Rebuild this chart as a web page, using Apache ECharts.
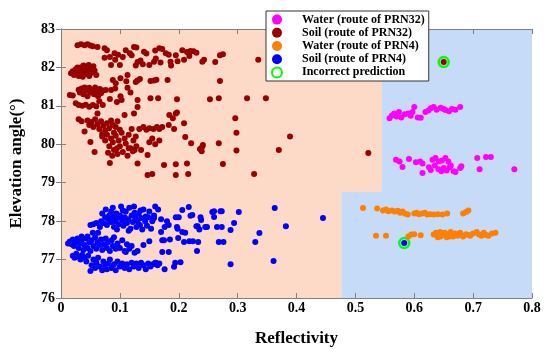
<!DOCTYPE html>
<html><head><meta charset="utf-8">
<script src="https://cdn.jsdelivr.net/npm/echarts@6/dist/echarts.min.js"></script>
<style>html,body{margin:0;padding:0;background:#fff}#c{width:550px;height:353px}</style>
</head><body><div id="c"></div>
<script>
const xTicks = [0, 0.1, 0.2, 0.3, 0.4, 0.5, 0.6, 0.7, 0.8];
const yTicks = [76, 77, 78, 79, 80, 81, 82, 83];
const seriesNames = ['Water (route of PRN32)', 'Soil (route of PRN32)', 'Water (route of PRN4)', 'Soil (route of PRN4)', 'Incorrect prediction'];
// decision regions [x0, y0, x1, y1]
const waterRegions = [[0.476, 76, 0.8, 83]];
const soilRegions = [[0, 76, 0.476, 83], [0.47, 78.76, 0.545, 83]];

const waterPRN32 = [[0.558,80.68],[0.562,80.75],[0.566,80.8],[0.57,80.72],[0.574,80.84],[0.578,80.7],[0.584,80.78],[0.59,80.8],[0.594,80.74],[0.597,80.84],[0.6,80.97],[0.606,80.7],[0.611,80.69],[0.619,80.84],[0.624,80.88],[0.628,80.94],[0.633,80.97],[0.638,80.9],[0.645,80.95],[0.65,80.92],[0.653,80.89],[0.659,80.86],[0.664,80.92],[0.67,80.9],[0.678,80.97],
[0.569,79.6],[0.575,79.55],[0.58,79.41],[0.591,79.62],[0.603,79.53],[0.61,79.55],[0.614,79.5],[0.614,79.25],[0.625,79.4],[0.628,79.33],[0.631,79.6],[0.636,79.64],[0.642,79.55],[0.647,79.58],[0.653,79.64],[0.641,79.35],[0.646,79.3],[0.65,79.38],[0.655,79.32],[0.66,79.4],[0.662,79.45],[0.667,79.3],[0.67,79.28],[0.678,79.38],[0.68,79.43],[0.707,79.64],[0.711,79.35],[0.722,79.67],[0.73,79.67],[0.77,79.35],[0.635,79.45],[0.658,79.55]];

const soilPRN32 = [[0.028,82.58],[0.034,82.6],[0.04,82.58],[0.045,82.6],[0.05,82.57],[0.054,82.55],[0.062,82.53],[0.074,82.5],[0.078,82.45],
[0.074,82.25],[0.083,82.27],[0.085,82.06],[0.091,82.37],[0.097,82.33],[0.1,82.06],[0.105,82.27],[0.11,82.45],[0.117,82.37],[0.12,82.32],[0.124,82.53],[0.128,82.52],[0.13,82.14],[0.135,82.18],[0.127,82.05],[0.141,82.41],[0.145,82.36],[0.15,82.06],[0.158,82.15],[0.161,82.23],[0.167,82.5],[0.172,82.48],[0.169,82.13],[0.178,82.37],[0.183,82.33],[0.186,82.15],[0.195,82.32],[0.198,82.16],[0.206,82.45],[0.209,82.2],[0.214,82.4],[0.22,82.43],[0.225,82.42],[0.23,82.38],[0.218,82.3],[0.24,82.15],[0.243,82.2],[0.262,82.14],[0.27,82.32],[0.275,82.34],[0.335,82.2],[0.139,82.08],[0.16,82.44],[0.187,82.05],[0.092,82.2],
[0.017,81.85],[0.02,81.9],[0.022,81.8],[0.025,81.95],[0.027,81.85],[0.03,81.78],[0.03,81.92],[0.033,82.0],[0.035,81.86],[0.037,81.76],[0.04,81.95],[0.042,81.83],[0.044,82.02],[0.046,81.9],[0.048,81.78],[0.05,81.97],[0.052,81.86],[0.055,82.03],[0.057,81.92],[0.06,81.8],[0.038,82.05],[0.028,82.0],[0.047,82.06],
[0.015,81.28],[0.02,81.27],
[0.032,81.35],[0.035,81.45],[0.038,81.3],[0.042,81.4],[0.045,81.25],[0.048,81.47],[0.05,81.35],[0.053,81.42],[0.056,81.3],[0.058,81.48],[0.06,81.38],[0.063,81.25],[0.066,81.44],[0.068,81.33],[0.071,81.4],[0.04,81.48],[0.03,81.42],
[0.025,81.07],[0.03,81.02],[0.036,81.0],[0.042,81.03],[0.048,80.98],[0.054,81.02],[0.06,80.99],[0.071,81.02],[0.083,81.18],[0.065,81.12],
[0.076,81.41],[0.085,81.41],[0.092,81.45],[0.088,81.67],[0.093,81.59],[0.101,81.72],[0.101,81.25],[0.103,81.15],[0.113,81.8],[0.111,81.64],[0.113,81.47],[0.127,81.62],[0.13,81.66],[0.134,81.7],[0.13,81.15],[0.13,80.97],[0.152,81.65],[0.158,81.66],[0.162,81.68],[0.152,81.2],[0.165,81.2],[0.181,81.67],[0.197,81.17],[0.253,81.17],[0.268,81.2],[0.316,81.2],[0.348,81.2],[0.27,81.65],[0.118,81.35],[0.095,81.1],
[0.184,80.76],[0.195,80.8],[0.19,80.68],[0.124,80.8],[0.108,80.76],[0.062,80.8],[0.197,80.83],
[0.03,80.65],[0.035,80.6],[0.04,80.33],[0.045,80.62],[0.048,80.5],[0.052,80.58],[0.055,80.45],[0.058,80.65],[0.062,80.52],[0.065,80.4],[0.068,80.6],[0.072,80.48],[0.075,80.35],[0.078,80.55],[0.082,80.42],[0.085,80.62],[0.088,80.5],[0.09,80.3],[0.093,80.45],[0.096,80.6],[0.1,80.38],[0.07,80.27],
[0.07,80.2],[0.075,80.1],[0.078,80.25],[0.082,79.95],[0.085,80.15],[0.088,80.05],[0.09,79.85],[0.093,80.22],[0.096,79.75],[0.098,80.1],[0.1,79.95],[0.103,80.3],[0.105,79.8],[0.108,80.15],[0.11,80.02],[0.113,79.7],[0.115,80.25],[0.118,79.9],[0.12,80.4],[0.123,80.1],[0.125,79.85],[0.127,80.2],[0.08,79.78],[0.087,79.7],[0.095,79.9],
[0.05,80.06],[0.057,79.8],[0.083,79.51],
[0.133,80.4],[0.14,80.45],[0.145,80.38],[0.15,80.42],[0.157,80.4],[0.163,80.45],[0.167,80.4],
[0.15,80.05],[0.155,80.15],[0.16,80.0],[0.167,80.1],
[0.172,80.45],[0.183,80.5],[0.192,80.4],[0.209,80.55],[0.211,80.19],[0.221,80.03],[0.24,79.94],[0.239,79.82],[0.236,79.88],[0.241,79.98],[0.268,80.03],[0.296,80.68],[0.298,80.3],[0.298,79.84],[0.275,79.49],[0.37,79.85],[0.389,80.2],[0.522,79.77],
[0.13,79.5],[0.147,79.72],[0.115,79.9],[0.122,79.82],[0.128,79.95],[0.136,79.85],
[0.175,79.46],[0.195,79.48],[0.214,79.5],
[0.147,79.2],[0.155,79.23],[0.195,79.2],[0.216,79.23],[0.328,79.23],
[0.65,82.14]];

const waterPRN4 = [[0.513,78.34],[0.537,78.33],[0.547,78.28],[0.552,78.3],[0.556,78.26],[0.562,78.28],[0.567,78.25],[0.572,78.27],[0.576,78.22],[0.58,78.25],[0.584,78.2],[0.589,78.17],[0.6,78.2],[0.604,78.22],[0.608,78.18],[0.613,78.2],[0.618,78.22],[0.622,78.17],[0.627,78.18],[0.633,78.17],[0.64,78.18],[0.648,78.17],[0.656,78.2],[0.683,78.2],[0.688,78.24],[0.692,78.28],
[0.535,77.62],[0.552,77.62],[0.59,77.6],[0.595,77.65],[0.6,77.66],[0.611,77.63],[0.633,77.65],[0.637,77.7],[0.64,77.58],[0.644,77.72],[0.648,77.65],[0.652,77.7],[0.655,77.58],[0.658,77.66],[0.662,77.72],[0.666,77.6],[0.67,77.68],[0.674,77.62],[0.678,77.7],[0.683,77.6],[0.688,77.66],[0.692,77.64],[0.7,77.68],[0.706,77.72],[0.71,77.65],[0.714,77.62],[0.718,77.7],[0.722,77.64],[0.726,77.62],[0.732,77.68],[0.738,77.7],[0.645,77.6],[0.66,77.6],[0.695,77.62]];

const soilPRN4 = [[0.066,77.85],[0.068,78.0],[0.07,78.2],[0.072,77.95],[0.075,78.1],[0.078,77.9],[0.08,78.05],[0.082,78.15],[0.085,77.98],[0.087,78.1],[0.088,78.35],[0.09,77.85],[0.092,78.0],[0.094,78.2],[0.096,78.08],[0.098,77.92],[0.1,78.15],[0.102,78.38],[0.104,78.02],[0.106,77.88],[0.108,78.1],[0.11,78.25],[0.112,77.95],[0.114,78.05],[0.116,78.35],[0.118,77.8],[0.12,78.15],[0.122,77.98],[0.124,78.38],[0.126,78.1],[0.128,77.85],[0.13,78.0],[0.132,78.2],[0.134,77.9],[0.136,78.08],[0.138,77.78],[0.14,78.3],[0.143,78.0],[0.146,77.88],[0.148,78.1],[0.15,78.25],[0.153,77.8],[0.156,78.05],[0.16,78.38],[0.158,78.15],[0.144,78.12],[0.085,78.25],[0.095,77.78],[0.105,78.28],[0.115,77.75],[0.125,78.22],[0.135,78.28],[0.076,78.3],[0.09,78.12],
[0.012,77.42],[0.015,77.47],[0.018,77.4],[0.02,77.52],[0.022,77.35],[0.025,77.45],[0.028,77.55],[0.03,77.3],[0.032,77.42],[0.035,77.5],[0.038,77.25],[0.04,77.38],[0.042,77.55],[0.045,77.3],[0.048,77.45],[0.05,77.22],[0.052,77.5],[0.055,77.35],[0.058,77.58],[0.06,77.28],[0.062,77.45],[0.065,77.38],[0.068,77.52],[0.07,77.25],[0.073,77.4],[0.076,77.55],[0.078,77.3],[0.08,77.45],[0.083,77.22],[0.086,77.5],[0.088,77.35],[0.09,77.58],[0.093,77.28],[0.096,77.42],[0.1,77.3],[0.104,77.5],[0.108,77.22],[0.112,77.4],[0.116,77.28],[0.054,77.7],[0.055,77.92],[0.06,77.95],[0.063,77.7],[0.05,77.9],[0.045,77.6],[0.035,77.6],
[0.02,77.1],[0.023,77.05],[0.026,77.15],[0.03,77.08],[0.033,77.0],[0.036,77.12],[0.04,77.05],[0.043,76.95],[0.046,77.1],[0.05,76.7],[0.052,76.85],[0.055,77.0],[0.058,76.78],[0.06,76.92],[0.063,77.05],[0.066,76.82],[0.07,76.72],[0.072,76.95],[0.075,76.85],[0.078,76.75],[0.08,76.9],[0.083,77.0],[0.086,76.78],[0.09,76.88],[0.093,76.72],[0.096,76.95],[0.1,76.82],[0.104,76.9],[0.108,76.78],[0.112,76.88],[0.116,76.75],[0.12,76.92],[0.124,76.82],[0.128,76.9],[0.132,76.78],[0.136,76.92],[0.14,76.85],[0.144,76.75],[0.148,76.9],[0.152,76.82],[0.156,76.88],[0.16,76.92],[0.164,76.85],[0.167,76.9],[0.125,77.18],[0.13,77.22],[0.11,77.2],[0.12,77.35],[0.14,77.38],
[0.15,77.48],[0.155,78.0],[0.158,78.08],[0.17,77.72],[0.175,77.5],[0.176,77.85],[0.183,77.9],[0.183,77.2],[0.172,77.2],[0.18,78.0],[0.195,78.1],[0.198,77.8],[0.2,78.1],[0.197,77.85],[0.199,77.56],[0.206,78.29],[0.206,77.72],[0.211,77.7],[0.209,77.46],[0.218,77.48],[0.217,78.37],[0.22,78.14],[0.223,78.16],[0.224,77.48],[0.23,77.87],[0.232,77.87],[0.233,77.46],[0.237,78.1],[0.238,78.03],[0.235,77.78],[0.245,77.85],[0.248,77.85],[0.231,77.22],[0.257,78.24],[0.26,78.11],[0.26,78.26],[0.271,78.26],[0.273,78.26],[0.302,78.24],[0.265,77.85],[0.273,77.85],[0.268,77.46],[0.276,77.46],[0.288,77.77],[0.294,77.95],[0.288,76.88],[0.337,77.69],[0.33,77.46],[0.363,78.34],[0.382,77.87],[0.361,76.96],[0.445,78.08],[0.194,76.92],[0.203,76.93],[0.192,76.81],[0.176,76.75],[0.161,76.92],[0.172,77.5],[0.185,77.52],[0.165,78.3],[0.17,78.05],
[0.583,77.43]];

const incorrect = [[0.65,82.14],[0.583,77.43]];

const colors = ['#ff00ff', '#990000', '#ff8000', '#0000ff', '#00ff00'];
const FONT = '"Liberation Serif", "Times New Roman", serif';

function regionData(list) {
  return list.map(r => [{coord: [r[0], r[1]]}, {coord: [r[2], r[3]]}]);
}

const chart = echarts.init(document.getElementById('c'));
const axisCommon = {
  z: 10,
  axisLine: {show: true, lineStyle: {color: '#808080', width: 1}},
  axisTick: {show: true, inside: true, length: 5, lineStyle: {color: '#808080'}},
  splitLine: {show: false}
};
chart.setOption({
  animation: false,
  grid: {left: 58, right: 18, top: 29, bottom: 55},
  xAxis: [
    Object.assign({type: 'value', min: 0, max: 0.8, interval: 0.1,
      name: 'Reflectivity', nameLocation: 'middle', nameGap: 32,
      nameTextStyle: {fontFamily: FONT, fontWeight: 'bold', fontSize: 17, color: '#000'},
      axisLabel: {margin: 3, fontFamily: FONT, fontWeight: 'bold', fontSize: 14, color: '#000',
        formatter: v => { const t = xTicks.find(a => Math.abs(a - v) < 1e-6); return t === undefined ? '' : String(t); }}
    }, axisCommon),
    Object.assign({type: 'value', min: 0, max: 0.8, interval: 0.1, position: 'top', axisLabel: {show: false}}, axisCommon)
  ],
  yAxis: [
    Object.assign({type: 'value', min: 76, max: 83, interval: 1,
      name: 'Elevation angle(°)', nameLocation: 'middle', nameGap: 36,
      nameTextStyle: {fontFamily: FONT, fontWeight: 'bold', fontSize: 17, color: '#000'},
      axisLabel: {margin: 6, fontFamily: FONT, fontWeight: 'bold', fontSize: 14, color: '#000',
        formatter: v => { const t = yTicks.find(a => Math.abs(a - v) < 1e-6); return t === undefined ? '' : String(t); }}
    }, axisCommon),
    Object.assign({type: 'value', min: 76, max: 83, interval: 1, position: 'right', axisLabel: {show: false}}, axisCommon)
  ],
  legend: {
    orient: 'vertical', left: 266, top: 11, z: 20,
    padding: [2, 4, 2, 5],
    itemWidth: 40, itemHeight: 10, itemGap: 0,
    backgroundColor: '#fff', borderColor: '#333', borderWidth: 1, borderRadius: 0,
    textStyle: {fontFamily: FONT, fontWeight: 'bold', fontSize: 12, color: '#000', lineHeight: 13.2},
    data: seriesNames
  },
  series: [
    {name: 'bg', type: 'scatter', data: [], silent: true, z: 1,
      markArea: {silent: true, itemStyle: {color: '#c6dbf8', opacity: 1, borderWidth: 0}, data: regionData(waterRegions)}},
    {name: 'bg2', type: 'scatter', data: [], silent: true, z: 1,
      markArea: {silent: true, itemStyle: {color: '#fdd9c7', opacity: 1, borderWidth: 0}, data: regionData(soilRegions)}},
    {name: seriesNames[4], type: 'scatter', symbolSize: 10, z: 2, data: incorrect,
      itemStyle: {color: 'rgba(0,0,0,0)', borderColor: colors[4], borderWidth: 2.5, opacity: 1}},
    {name: seriesNames[0], type: 'scatter', symbolSize: 6, z: 3, data: waterPRN32, itemStyle: {color: colors[0], opacity: 1}},
    {name: seriesNames[2], type: 'scatter', symbolSize: 6, z: 3, data: waterPRN4, itemStyle: {color: colors[2], opacity: 1}},
    {name: seriesNames[3], type: 'scatter', symbolSize: 6, z: 3, data: soilPRN4, itemStyle: {color: colors[3], opacity: 1}},
    {name: seriesNames[1], type: 'scatter', symbolSize: 6, z: 3, data: soilPRN32, itemStyle: {color: colors[1], opacity: 1}}
  ]
});
</script></body></html>
